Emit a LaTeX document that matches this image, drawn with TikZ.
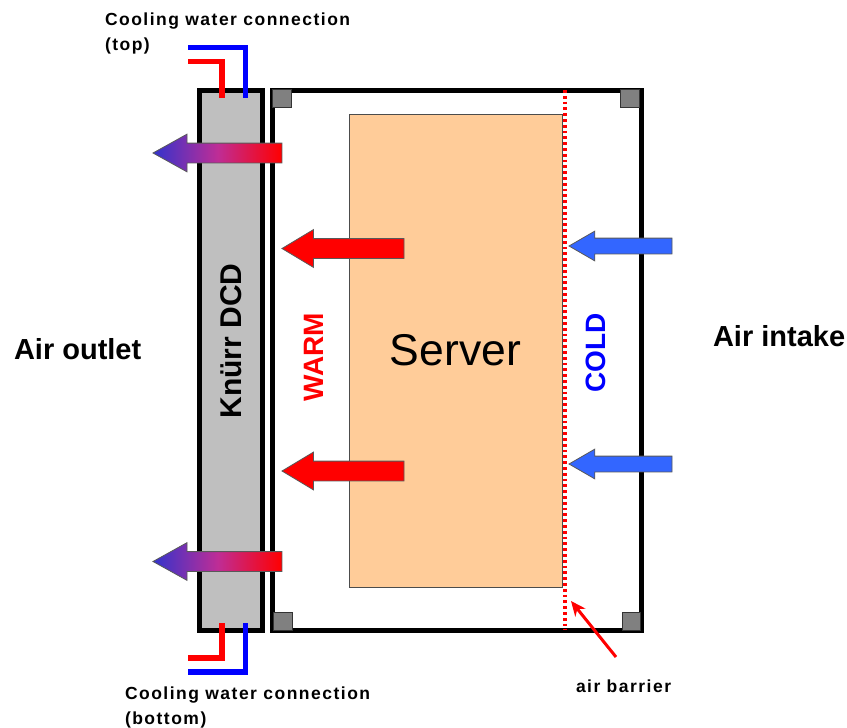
\documentclass[tikz,border=0pt]{standalone}
\usepackage{fontspec}
\setmainfont{Liberation Sans}
\newfontfamily\spacedfont[LetterSpace=8.5]{Liberation Sans}
\usetikzlibrary{arrows.meta,positioning,shapes.arrows}

\begin{document}
\begin{tikzpicture}[
  x=1pt,y=-1pt,
  >=Stealth,
  outer sep=0pt,
  cooler/.style   ={draw=black,line width=5pt,fill=black!25,minimum width=63pt,
                    minimum height=540pt,inner sep=0pt},
  cabinet/.style  ={draw=black,line width=5pt,minimum width=369.5pt,
                    minimum height=540pt,inner sep=0pt},
  serverbox/.style={draw=black!70,line width=0.8pt,fill=serverorange,
                    minimum width=213pt,minimum height=473pt,inner sep=0pt},
  post/.style     ={draw=black!80,line width=1pt,fill=black!50,minimum size=18.5pt,
                    inner sep=0pt},
  flow/.style     ={single arrow,shape border rotate=180,draw=black!65,line width=0.8pt,
                    inner xsep=0pt,minimum height=#1,single arrow head indent=0pt,anchor=tip},
  warmflow/.style ={flow=122pt,fill=red,inner ysep=9.5pt,single arrow head extend=9pt,
                    single arrow tip angle=62},
  coldflow/.style ={flow=103pt,fill=coldblue,inner ysep=7.5pt,single arrow head extend=7pt,
                    single arrow tip angle=60},
  exhaust/.style  ={flow=129pt,left color=exhaustblue,right color=red,
                    middle color=exhaustmid,inner ysep=9.5pt,
                    single arrow head extend=9pt,single arrow tip angle=58},
  pipe/.style     ={line width=5.5pt},
  caption/.style  ={font=\fontsize{17.5}{25}\selectfont\spacedfont\bfseries,align=left,
                    inner sep=0pt},
  side/.style     ={font=\fontsize{29}{32}\selectfont\bfseries,inner sep=0pt},
  upright/.style  ={rotate=90,inner sep=0pt},
]
\definecolor{serverorange}{RGB}{255,204,153}
\definecolor{coldblue}{RGB}{51,102,255}
\definecolor{exhaustblue}{RGB}{51,51,204}
\definecolor{exhaustmid}{RGB}{190,45,150}

\useasboundingbox (0,0) rectangle (847,728);

%% ============================================================
%%  Cabinet, cooler and server
%% ============================================================
\node[cabinet] (cabinet) at (456.75,360.5) {};
\node[cooler]  (dcd) at (230.5,360.5) {};
\node[serverbox] (server) at (455.5,350.5)
      {\fontsize{44.5}{50}\selectfont Server};

%% Corner posts
\node[post] (postNW) at (282,98.5) {};
\node[post] (postNE) at (630,98.5) {};
\node[post] (postSW) at (283,621.5) {};
\node[post] (postSE) at (631.5,621.5) {};

%% ============================================================
%%  Air barrier
%% ============================================================
\coordinate (barriertop) at (565,90);
\coordinate (barrierbot) at (565,630);
\draw[red,line width=4pt,dash pattern=on 2.8pt off 3pt] (barriertop) -- (barrierbot);

\coordinate (barrierfrom) at (616,657);
\coordinate (barrierto)   at (571,601);
\draw[-{Stealth[length=15pt,width=13pt]},red,line width=3pt] (barrierfrom) -- (barrierto);
\node[caption,anchor=west] (barrierlabel) at (576,686) {air barrier};

%% ============================================================
%%  Cooling water pipes
%% ============================================================
\coordinate (bluetopfree) at (188,47.5);
\coordinate (bluetopin)   at (245.5,98);
\coordinate (redtopfree)  at (188,61.5);
\coordinate (redtopin)    at (222,98);
\draw[pipe,blue] (bluetopfree) -| (bluetopin);
\draw[pipe,red]  (redtopfree)  -| (redtopin);

\coordinate (bluebotfree) at (188,672);
\coordinate (bluebotin)   at (245.5,623);
\coordinate (redbotfree)  at (188,658);
\coordinate (redbotin)    at (222,623);
\draw[pipe,blue] (bluebotfree) -| (bluebotin);
\draw[pipe,red]  (redbotfree)  -| (redbotin);

\node[caption,anchor=north west] (toplabel) at (105,13)
      {Cooling water connection\\(top)};
\node[caption,anchor=north west] (botlabel) at (125,687)
      {Cooling water connection\\(bottom)};

%% ============================================================
%%  Air flow arrows
%% ============================================================
\node[exhaust] (outtop) at (153,153) {};
\node[exhaust] (outbot) at (153,561.5) {};
\node[warmflow] (warmtop) at (282,248.5) {};
\node[warmflow] (warmbot) at (282,471) {};
\node[coldflow] (coldtop) at (569,246) {};
\node[coldflow] (coldbot) at (569,464) {};

%% ============================================================
%%  Labels
%% ============================================================
\node[side,anchor=west] (outlet) at (14,349) {Air outlet};
\node[side,anchor=west] (intake) at (713,336) {Air intake};
\node[upright,font=\fontsize{30}{32}\selectfont\bfseries] (dcdlabel) at (231,341) {Knürr DCD};
\node[upright,red,font=\fontsize{28}{32}\selectfont\bfseries] (warmlabel) at (314,357) {WARM};
\node[upright,blue,font=\fontsize{28}{32}\selectfont\bfseries] (coldlabel) at (596,353) {COLD};

\end{tikzpicture}
\end{document}
